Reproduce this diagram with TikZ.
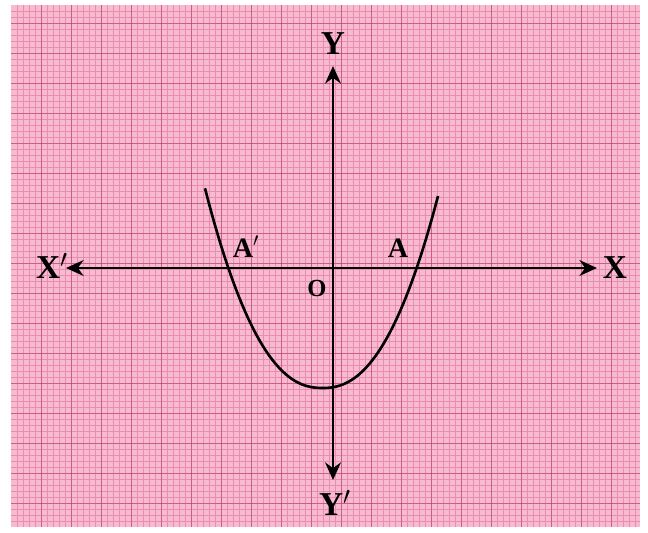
\documentclass[tikz,border=0pt]{standalone}
\usepackage{fontspec}
\setmainfont{Liberation Serif}
\usetikzlibrary{arrows.meta}
\definecolor{paperpink}{RGB}{247,186,207}
\definecolor{gridpink}{RGB}{232,140,176}
\definecolor{gridmag}{RGB}{176,48,104}

\begin{document}
\begin{tikzpicture}[x=0.02cm, y=-0.02cm,
  axis/.style={line width=1.6pt, {Stealth[length=10pt,width=9pt]}-{Stealth[length=10pt,width=9pt]}},
  curve/.style={line width=1.5pt},
  minorgrid/.style={gridpink, line width=0.3pt},
  majorgrid/.style={gridmag, line width=0.4pt, opacity=0.5},
  lbl/.style={font=\fontsize{19}{21}\selectfont\bfseries, inner sep=0pt},
  ptlbl/.style={lbl, font=\fontsize{16}{18}\selectfont\bfseries}
]
  \useasboundingbox (0,0) rectangle (648,533);

  % Graph paper
  \fill[white] (0,0) rectangle (648,533);
  \fill[paperpink] (11,5) rectangle (640,527);
  \foreach \gx in {17,23,...,635} \draw[minorgrid] (\gx,5) -- (\gx,527);
  \foreach \gy in {11,17,...,523} \draw[minorgrid] (11,\gy) -- (640,\gy);
  \foreach \gx in {41,71,...,631} \draw[majorgrid] (\gx,5) -- (\gx,527);
  \foreach \gy in {23,53,...,523} \draw[majorgrid] (11,\gy) -- (640,\gy);

  % Axis ends
  \coordinate (xl) at (66,268);
  \coordinate (xr) at (597,268);
  \coordinate (yt) at (333,66);
  \coordinate (yb) at (333,480);

  % Labels
  \node[lbl] (xneg) at (52,266) {X$'$};
  \node[lbl] (xpos) at (615,268) {X};
  \node[lbl] (ypos) at (333,44) {Y};
  \node[lbl] (yneg) at (335,503) {Y$'$};
  \node[lbl, font=\fontsize{14}{16}\selectfont\bfseries] (orig) at (317,288) {O};
  \node[ptlbl] (aneg) at (246,247) {A$'$};
  \node[ptlbl] (apos) at (398,248) {A};

  % Axes
  \draw[axis] (xl) -- (xr);
  \draw[axis] (yt) -- (yb);

  % Parabola
  \draw[curve] plot[domain=205:438, samples=90, smooth]
    (\x, {388 - 121*pow(abs(\x-322.5)/94.5, 2.3)});
\end{tikzpicture}
\end{document}
